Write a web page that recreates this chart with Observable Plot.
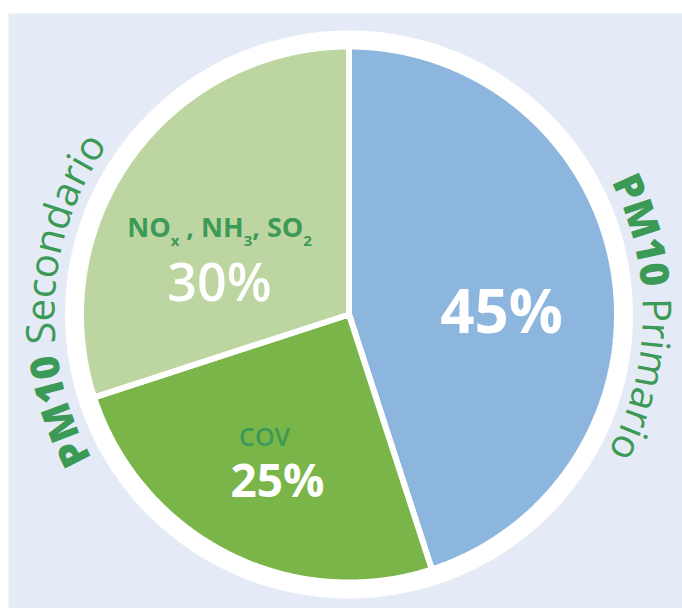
<!DOCTYPE html>
<html>
<head>
<meta charset="utf-8">
<script src="https://cdn.jsdelivr.net/npm/d3@7"></script>
<script src="https://cdn.jsdelivr.net/npm/@observablehq/plot@0.6"></script>
<style>
  html, body { margin: 0; padding: 0; background: #ffffff; }
  #chart { width: 682px; height: 608px; }
</style>
</head>
<body>
<div id="chart"></div>
<script>
// ---- data ----
const categories = ["PM10 Primario", "COV", "NOx , NH3, SO2"];
const values = [45, 25, 30];
const valueLabels = ["45%", "25%", "30%"];
const sliceColors = ["#8cb6de", "#7ab54a", "#bdd6a1"];
const groupLabels = ["PM10 Secondario", "PM10 Primario"];

// ---- pie geometry from data ----
const arcs = d3.pie().sort(null).value(d => d.value)(
  categories.map((c, i) => ({ category: c, value: values[i] }))
);
const slicePts = [];
arcs.forEach(a => {
  const c = a.data.category;
  slicePts.push({ category: c, x: 0, y: 0 });
  const n = Math.ceil((a.endAngle - a.startAngle) / 0.005);
  for (let k = 0; k <= n; k++) {
    const t = a.startAngle + (a.endAngle - a.startAngle) * k / n;
    slicePts.push({ category: c, x: Math.sin(t), y: Math.cos(t) });
  }
  slicePts.push({ category: c, x: 0, y: 0 });
});

const green = "#3b9a55";
const font = "'Open Sans', sans-serif";

const plot = Plot.plot({
  width: 682,
  height: 608,
  marginLeft: 8,
  marginTop: 13,
  marginRight: 0,
  marginBottom: 0,
  style: { fontFamily: font, background: "transparent" },
  x: { domain: [(8 - 348.5) / 268, (682 - 348.5) / 268], axis: null },
  y: { domain: [-(608 - 314) / 268, (314 - 13) / 268], axis: null },
  color: { domain: categories, range: sliceColors },
  marks: [
    Plot.frame({ fill: "#e5ebf6", stroke: null }),
    Plot.dot([0], { x: () => 0, y: () => 0, r: 284, fill: "white", stroke: null }),
    Plot.line(slicePts, {
      x: "x", y: "y", z: "category", fill: "category",
      stroke: "white", strokeWidth: 6, strokeLinejoin: "miter"
    }),
    Plot.text([valueLabels[0]], { x: () => 0.569, y: () => 0.004, text: d => d,
      fill: "white", fontSize: 60, fontWeight: 700, textAnchor: "middle", lineAnchor: "middle" }),
    Plot.text([valueLabels[2]], { x: () => -0.483, y: () => 0.112, text: d => d,
      fill: "white", fontSize: 52, fontWeight: 600, textAnchor: "middle", lineAnchor: "middle" }),
    Plot.text([valueLabels[1]], { x: () => -0.267, y: () => -0.625, text: d => d,
      fill: "white", fontSize: 46, fontWeight: 700, textAnchor: "middle", lineAnchor: "middle" }),
    Plot.text([categories[1]], { x: () => -0.315, y: () => -0.46, text: d => d,
      fill: green, fontSize: 25, fontWeight: 600, textAnchor: "middle", lineAnchor: "middle" }),
    Plot.text([categories[2]], { x: () => -0.483, y: () => 0.321, text: d => d,
      fill: green, fontSize: 27, fontWeight: 700, textAnchor: "middle", lineAnchor: "middle",
      className: "chem" })
  ]
});

document.getElementById("chart").appendChild(plot);

// ---- subscripts in chemical label ----
const chemParts = [["NO", 0], ["x", 1], [" , NH", 0], ["3", 1], [", SO", 0], ["2", 1]];
d3.select(plot).selectAll("g.chem text").each(function () {
  const t = d3.select(this);
  t.text("").style("white-space", "pre");
  let shifted = false;
  chemParts.forEach(([s, sub]) => {
    const ts = t.append("tspan").text(s);
    if (sub) { ts.attr("font-size", 15).attr("dy", 9); shifted = true; }
    else if (shifted) { ts.attr("dy", -9); shifted = false; }
  });
});

// ---- curved group labels ----
const xs = plot.scale("x"), ys = plot.scale("y");
const cx = xs.apply(0), cy = ys.apply(0);
const unit = xs.apply(1) - cx;
const rBase = unit * 1.097;
const svg = d3.select(plot);
svg.append("defs").append("path")
  .attr("id", "ringPath")
  .attr("d", `M${cx},${cy + rBase} A${rBase},${rBase} 0 1 1 ${cx},${cy - rBase} A${rBase},${rBase} 0 1 1 ${cx},${cy + rBase}`);

function curved(label, offset) {
  const [bold, ...rest] = label.split(" ");
  const t = svg.append("text")
    .attr("font-family", font)
    .attr("font-size", 40)
    .attr("fill", green)
    .attr("text-anchor", "middle")
    .style("white-space", "pre");
  const tp = t.append("textPath").attr("href", "#ringPath").attr("startOffset", offset);
  tp.append("tspan").attr("font-weight", 800).text(bold);
  tp.append("tspan").attr("font-weight", 400).text(" " + rest.join(" "));
}
curved(groupLabels[0], "25.8%");
curved(groupLabels[1], "75.2%");
</script>
</body>
</html>
